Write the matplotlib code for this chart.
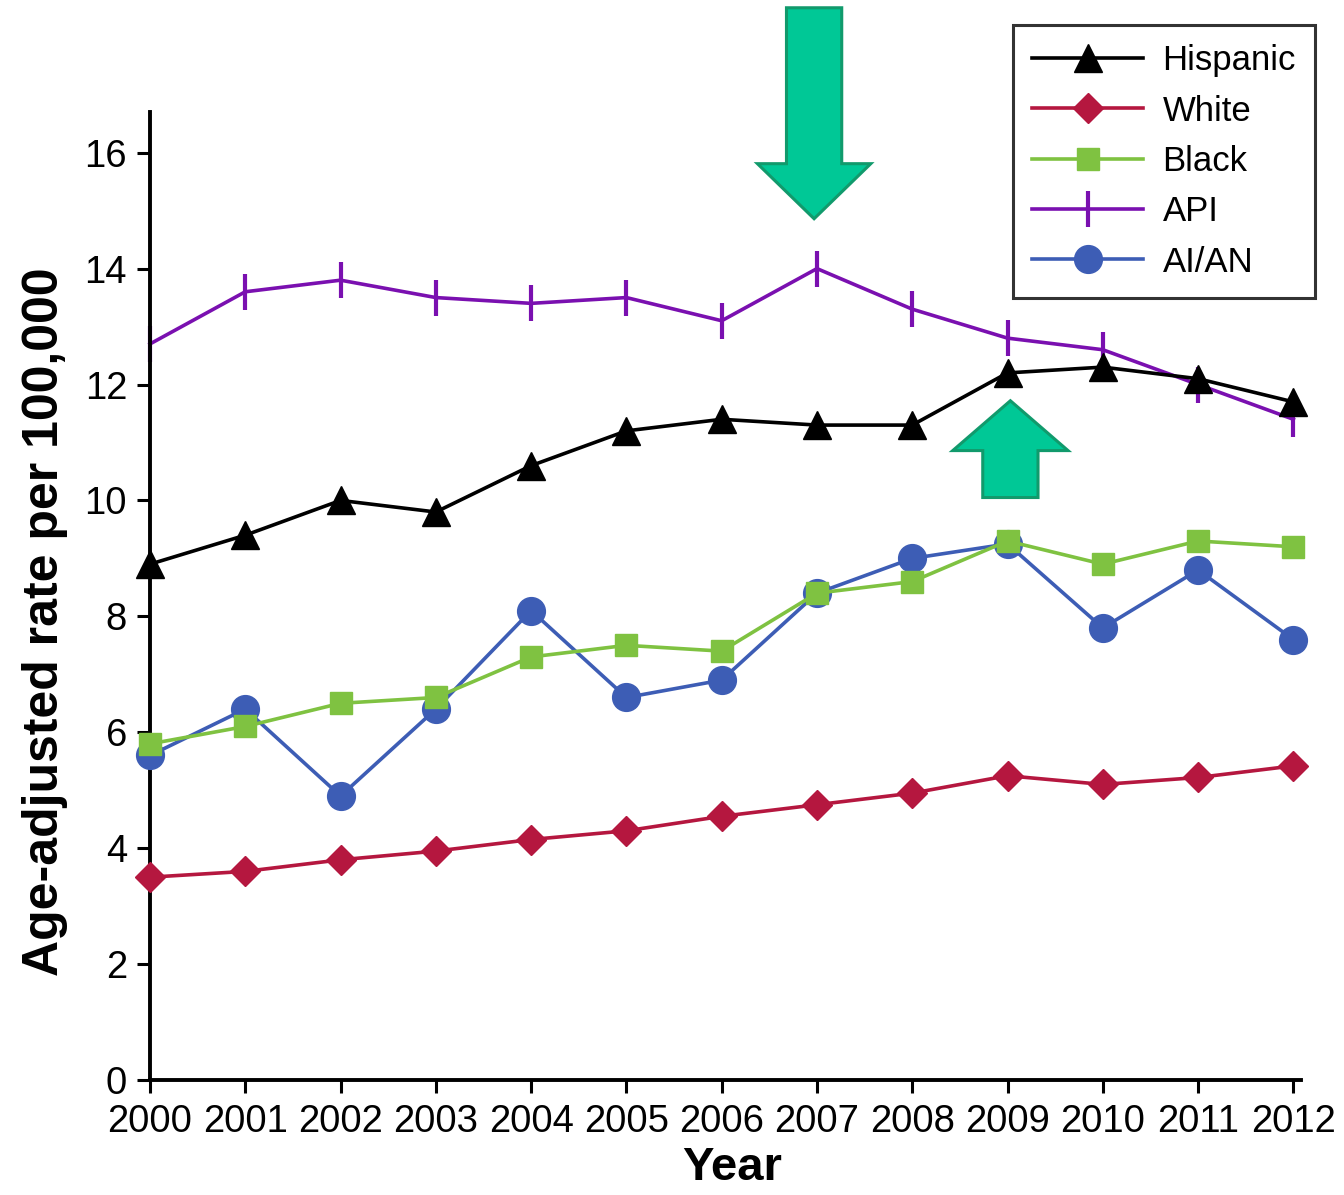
import matplotlib
matplotlib.use("Agg")
import matplotlib.pyplot as plt
from matplotlib.patches import FancyArrow

plt.rcParams['font.family'] = ['Liberation Sans', 'DejaVu Sans']

# rates per 100,000 by year
years = list(range(2000, 2013))
hispanic = [8.9, 9.4, 10.0, 9.8, 10.6, 11.2, 11.4, 11.3, 11.3, 12.2, 12.3, 12.1, 11.7]
white = [3.5, 3.6, 3.8, 3.95, 4.15, 4.3, 4.55, 4.75, 4.95, 5.25, 5.1, 5.22, 5.42]
black = [5.8, 6.1, 6.5, 6.6, 7.3, 7.5, 7.4, 8.4, 8.6, 9.3, 8.9, 9.3, 9.2]
api = [12.7, 13.6, 13.8, 13.5, 13.4, 13.5, 13.1, 14.0, 13.3, 12.8, 12.6, 12.0, 11.4]
aian = [5.6, 6.4, 4.9, 6.4, 8.1, 6.6, 6.9, 8.4, 9.0, 9.25, 7.8, 8.8, 7.6]

yticks = [0, 2, 4, 6, 8, 10, 12, 14, 16]

fig = plt.figure(figsize=(13.44, 11.95), dpi=100)
ax = fig.add_axes([0.1116, 0.0962, 0.8564, 0.810])

lw = 2.6
ax.plot(years, hispanic, color='black', lw=lw, marker='^', ms=20,
        label='Hispanic', clip_on=False, zorder=3)
ax.plot(years, white, color='#b5173f', lw=lw, marker='D', ms=15,
        label='White', clip_on=False, zorder=3)
ax.plot(years, api, color='#7a10b0', lw=lw, marker='|', ms=26, mew=3,
        label='API', clip_on=False, zorder=2)
ax.plot(years, aian, color='#3d5db5', lw=lw, marker='o', ms=20,
        label='AI/AN', clip_on=False, zorder=3)
ax.plot(years, black, color='#7fc241', lw=lw, marker='s', ms=16,
        label='Black', clip_on=False, zorder=4)

ax.set_xlim(2000, 2012.08)
ax.set_ylim(0, 16.7)
ax.set_xticks(years)
ax.set_yticks(yticks)

for side in ['top', 'right']:
    ax.spines[side].set_visible(False)
for side in ['left', 'bottom']:
    ax.spines[side].set_linewidth(2.8)
ax.tick_params(axis='both', labelsize=27.5, length=9.5, width=2.2)
ax.tick_params(axis='x', pad=8)
ax.tick_params(axis='y', pad=7)

ax.set_xlabel('Year', fontsize=34, fontweight='bold')
ax.set_ylabel('Age-adjusted rate per 100,000', fontsize=36, fontweight='bold')
ax.xaxis.set_label_coords(0.5056, -0.068)
ax.yaxis.set_label_coords(-0.0712, 0.473)

# legend in fixed order, box sitting above the plot corner
h, l = ax.get_legend_handles_labels()
order = ['Hispanic', 'White', 'Black', 'API', 'AI/AN']
hd = dict(zip(l, h))
leg = fig.legend([hd[k] for k in order], order, loc='upper right',
                 bbox_to_anchor=(0.9784, 0.979), fontsize=25,
                 frameon=True, fancybox=False, edgecolor='black',
                 handlelength=3.2, handletextpad=0.55, labelspacing=0.5,
                 borderpad=0.55, borderaxespad=0)
leg.get_frame().set_linewidth(2.2)

# highlight arrows
arrow_kw = dict(facecolor='#00c896', edgecolor='#119a6c', linewidth=2.2,
                length_includes_head=True, clip_on=False, zorder=6)
ax.add_patch(FancyArrow(2006.97, 18.5, 0, 14.86 - 18.5, width=0.58,
                        head_width=1.19, head_length=0.95, **arrow_kw))
ax.add_patch(FancyArrow(2009.03, 10.05, 0, 11.72 - 10.05, width=0.58,
                        head_width=1.21, head_length=0.86, **arrow_kw))

fig.savefig('out.png', dpi=100)
